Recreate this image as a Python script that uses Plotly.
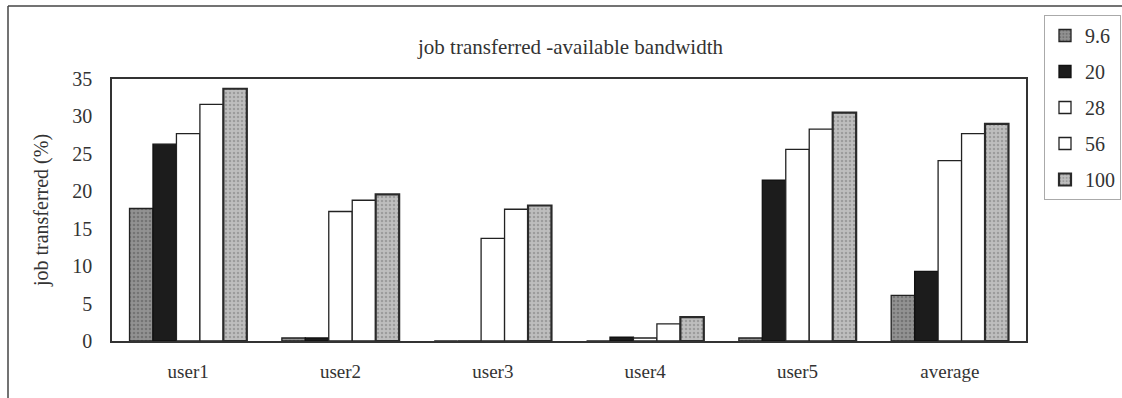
import plotly.graph_objects as go

categories = ["user1", "user2", "user3", "user4", "user5", "average"]
series_names = ["9.6", "20", "28", "56", "100"]
v_9_6 = [17.7, 0.4, 0.0, 0.0, 0.4, 6.1]
v_20 = [26.3, 0.4, 0.0, 0.5, 21.5, 9.3]
v_28 = [27.7, 17.3, 13.7, 0.4, 25.6, 24.1]
v_56 = [31.6, 18.8, 17.6, 2.3, 28.3, 27.7]
v_100 = [33.7, 19.6, 18.1, 3.2, 30.5, 29.0]
y_ticks = [0, 5, 10, 15, 20, 25, 30, 35]

FONT = "Liberation Serif"

styles = {
    "9.6": dict(color="#8e8e8e", pattern=dict(shape=".", bgcolor="#929292", fgcolor="#555555", size=4, solidity=0.35), line=dict(color="#222", width=1.3)),
    "20": dict(color="#1c1c1c", line=dict(color="#111", width=1.3)),
    "28": dict(color="#ffffff", line=dict(color="#222", width=1.3)),
    "56": dict(color="#ffffff", line=dict(color="#222", width=1.3)),
    "100": dict(color="#b4b4b4", pattern=dict(shape=".", bgcolor="#bebebe", fgcolor="#7a7a7a", size=4, solidity=0.3), line=dict(color="#2a2a2a", width=2.2)),
}

data = [v_9_6, v_20, v_28, v_56, v_100]
fig = go.Figure()
for name, vals in zip(series_names, data):
    fig.add_trace(go.Bar(x=categories, y=vals, name=name, marker=styles[name], legendgroup=name))

W, H = 1122, 398
L, R, T, B = 112, 1026, 79, 341
pw, ph = R - L, B - T
def px(x):
    return (x - L) / pw
def py(y):
    return (B - y) / ph

fig.update_layout(
    width=W, height=H,
    margin=dict(l=L, r=W - R, t=T, b=H - B, pad=0, autoexpand=False),
    paper_bgcolor="white", plot_bgcolor="white",
    font=dict(family=FONT, color="#333", size=16),
    barmode="group", bargap=0.23, bargroupgap=0,
    showlegend=True,
    legend=dict(x=px(1044), y=py(15), xanchor="left", yanchor="top",
                bordercolor="#aaa", borderwidth=1, bgcolor="white",
                font=dict(family=FONT, size=20, color="#333"),
                tracegroupgap=7, itemwidth=30),
    annotations=[dict(text="job transferred -available bandwidth", x=px(570), y=py(47),
                      xref="paper", yref="paper", showarrow=False, yanchor="middle", xanchor="center",
                      font=dict(family=FONT, size=21, color="#333"))],
    shapes=[
        dict(type="line", xref="paper", yref="paper", x0=px(8), x1=px(8), y0=py(6), y1=py(398), line=dict(color="#444", width=1.5)),
        dict(type="line", xref="paper", yref="paper", x0=px(8), x1=px(1122), y0=py(6), y1=py(6), line=dict(color="#444", width=1.5)),
    ],
)
fig.update_xaxes(showline=True, mirror=True, linecolor="#333", linewidth=1.5,
                 ticks="", showgrid=False, tickfont=dict(family=FONT, size=19, color="#333"),
                 ticklabelstandoff=12)
fig.update_yaxes(range=[0, 35], tickvals=y_ticks, showline=True, mirror=True, linecolor="#333",
                 linewidth=1.5, showgrid=False, zeroline=False, ticks="",
                 tickfont=dict(family=FONT, size=20, color="#333"), ticklabelstandoff=14,
                 title=dict(text="job transferred (%)", font=dict(family=FONT, size=20, color="#333"), standoff=18))

fig.write_html("out.html")
